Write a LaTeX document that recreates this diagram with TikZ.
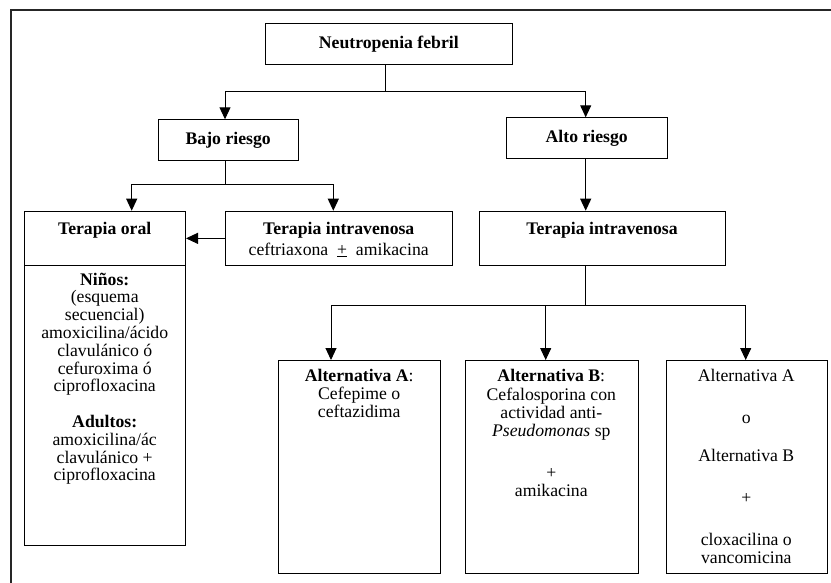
\documentclass[tikz,border=0pt]{standalone}
\usepackage{fontspec}
\setmainfont{Liberation Serif}
\usetikzlibrary{arrows.meta}
\begin{document}
\begin{tikzpicture}[x=1pt,y=-1pt,
  box/.style={draw, line width=1pt, inner sep=0pt, anchor=north west, font=\fontsize{17.7}{18.3}\selectfont\bfseries},
  txt/.style={anchor=north, inner sep=0pt, align=center, font=\fontsize{17.7}{18.3}\selectfont},
  conn/.style={line width=1pt},
  arr/.style={line width=1pt, -{Triangle[length=12pt,width=11pt]}},
  frame/.style={line width=2pt, black!85}]
\useasboundingbox (0,0) rectangle (831,582);
\draw[frame] (11,640) -- (11,10) -- (880,10);

% boxes
\node[box, minimum width=246.7pt, minimum height=41pt] (nf) at (265,23.3) {Neutropenia febril};
\node[box, minimum width=140pt, minimum height=40.7pt] (bajo) at (157.7,119.3) {Bajo riesgo};
\node[box, minimum width=161pt, minimum height=40.4pt] (alto) at (505.7,117.3) {Alto riesgo};
\node[box, minimum width=160.7pt, minimum height=54.3pt] (toral) at (24.3,210.7) {};
\node[box, minimum width=160.7pt, minimum height=280pt] (ninos) at (24.3,265) {};
\node[box, minimum width=227.3pt, minimum height=54.3pt] (tivl) at (225,210.7) {};
\node[box, minimum width=246pt, minimum height=54.3pt] (tivr) at (479,210.7) {};
\node[box, minimum width=161.7pt, minimum height=213.3pt] (alta) at (278.3,360) {};
\node[box, minimum width=172.7pt, minimum height=213.3pt] (altb) at (465,360) {};
\node[box, minimum width=160.7pt, minimum height=213.3pt] (altc) at (666,360) {};

% texts
\node[txt] (toralt) at (104.7,221.2) {\strut\textbf{Terapia oral}};
\node[txt] (tivlt) at (338.7,221.2) {\strut\textbf{Terapia intravenosa}\\[2.7pt]ceftriaxona\ \ \underline{+}\ \ amikacina};
\node[txt] (tivrt) at (602,221.2) {\strut\textbf{Terapia intravenosa}};
\node[txt, font=\fontsize{17.7}{17.8}\selectfont] (ninost) at (104.7,272.5) {\strut\textbf{Niños:}\\(esquema\\secuencial)\\amoxicilina/ácido\\clavulánico ó\\cefuroxima ó\\ciprofloxacina\\[17.8pt]\textbf{Adultos:}\\amoxicilina/ác\\clavulánico +\\ciprofloxacina};
\node[txt] (altat) at (359.2,368.2) {\strut\textbf{Alternativa A}:\\Cefepime o\\ceftazidima};
\node[txt] (altbt) at (551.3,368.9) {\strut\textbf{Alternativa B}:\\Cefalosporina con\\actividad anti-\\\textit{Pseudomonas} sp\\[23.5pt]+\\amikacina};
\node[txt] (altct) at (746.3,368.2) {\strut Alternativa A\\[23.7pt]o\\[19.7pt]Alternativa B\\[23.7pt]+\\[23.7pt]cloxacilina o\\vancomicina};

% connectors
\coordinate (j0) at (385.7,91.7);
\coordinate (jb) at (225,91.7);
\coordinate (ja) at (585.7,91.7);
\draw[conn] (nf.south -| j0) -- (j0);
\draw[conn] (jb) -- (ja);
\draw[arr] (jb) -- (bajo.north -| jb);
\draw[arr] (ja) -- (alto.north -| ja);

\coordinate (jc) at (225,184);
\coordinate (jd) at (131.7,184);
\coordinate (je) at (333.3,184);
\draw[conn] (bajo.south -| jc) -- (jc);
\draw[conn] (jd) -- (je);
\draw[arr] (jd) -- (toral.north -| jd);
\draw[arr] (je) -- (tivl.north -| je);

\draw[arr] (tivl.west) -- (tivl.west -| toral.east);
\draw[arr] (alto.south -| ja) -- (tivr.north -| ja);

\coordinate (jg) at (585.7,305);
\coordinate (jh) at (331,305);
\coordinate (ji) at (545.7,305);
\coordinate (jk) at (745.7,305);
\draw[conn] (tivr.south -| jg) -- (jg);
\draw[conn] (jh) -- (jk);
\draw[arr] (jh) -- (alta.north -| jh);
\draw[arr] (ji) -- (altb.north -| ji);
\draw[arr] (jk) -- (altc.north -| jk);
\end{tikzpicture}
\end{document}
